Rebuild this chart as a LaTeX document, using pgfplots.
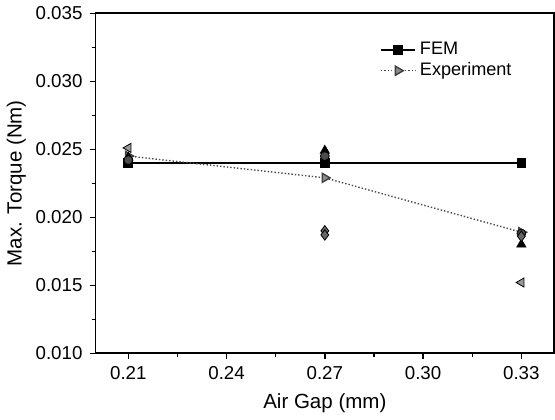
\documentclass[border=0pt]{standalone}
\usepackage{pgfplots}
\pgfplotsset{compat=1.18}
\usepackage{fontspec}
\setmainfont{Liberation Sans}
\begin{document}
\begin{tikzpicture}
\begin{axis}[
    scale only axis,
    width=228pt, height=169pt,
    xmin=0.20, xmax=0.34,
    ymin=0.010, ymax=0.035,
    xtick={0.21,0.24,0.27,0.30,0.33},
    ytick={0.010,0.015,0.020,0.025,0.030,0.035},
    minor x tick num=1, minor y tick num=1,
    xticklabel style={/pgf/number format/.cd,fixed,fixed zerofill,precision=2},
    yticklabel style={/pgf/number format/.cd,fixed,fixed zerofill,precision=3},
    scaled y ticks=false, scaled x ticks=false,
    /pgf/number format/assume math mode=true,
    tick align=outside,
    tick pos=left,
    major tick length=3pt, minor tick length=2pt,
    tick style={black, line width=0.7pt},
    axis line style={line width=0.9pt},
    ticklabel style={font=\fontsize{9.3}{11}\selectfont},
    xlabel={Air Gap (mm)},
    ylabel={Max. Torque (Nm)},
    label style={font=\fontsize{10.2}{12}\selectfont},
    ylabel style={yshift=-2pt},
    legend style={draw=none, fill=none, at={(0.93,0.94)}, anchor=north east,
        font=\fontsize{9}{10}\selectfont, row sep=-1.5pt},
    legend cell align=left,
]
\addplot[black, line width=0.8pt, mark=square*, mark size=2pt]
    coordinates {(0.21,0.0240) (0.27,0.0240) (0.33,0.0240)};
\addlegendentry{FEM}
\addplot[black!70, densely dotted, line width=0.7pt, mark=triangle*, mark options={rotate=-90, solid, fill=black!45, draw=black!75}, mark size=2.6pt]
    coordinates {(0.21,0.0245) (0.27,0.0229) (0.33,0.0189)};
\addlegendentry{Experiment}
% remaining measured points
\addplot[only marks, mark=triangle*, mark options={rotate=90, fill=black!40, draw=black}, mark size=2.6pt, forget plot]
    coordinates {(0.21,0.0251) (0.33,0.0152)};
\addplot[only marks, mark=triangle*, mark options={fill=black}, mark size=2.6pt, forget plot]
    coordinates {(0.21,0.0244) (0.27,0.0249) (0.33,0.0180)};
\addplot[only marks, mark=*, mark options={fill=black!70, draw=black}, mark size=2.2pt, forget plot]
    coordinates {(0.21,0.0242) (0.27,0.0245) (0.33,0.0188)};
\addplot[only marks, mark=diamond*, mark options={fill=black!60, draw=black}, mark size=2.6pt, forget plot]
    coordinates {(0.27,0.0190) (0.27,0.0187) (0.33,0.0186)};
\end{axis}
\end{tikzpicture}
\end{document}
